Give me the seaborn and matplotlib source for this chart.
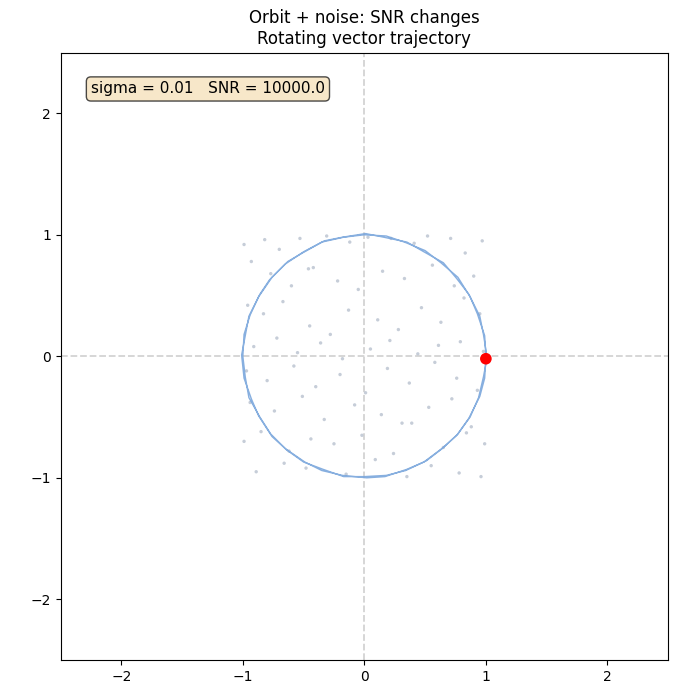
import numpy as np
import seaborn as sns
import matplotlib.pyplot as plt
import pandas as pd

# trajectory (two laps, slight noise)
traj_x = [1.00, 0.99, 0.93, 0.87, 0.77, 0.63, 0.50, 0.33, 0.18, 0.00, -0.17, -0.35, -0.50, -0.65,
          -0.76, -0.87, -0.94, -0.99, -1.00, -0.98, -0.95, -0.86, -0.77, -0.64, -0.50, -0.34,
          -0.17, 0.00, 0.18, 0.34, 0.51, 0.64, 0.76, 0.87, 0.94, 0.98, 1.01,
          0.98, 0.95, 0.86, 0.76, 0.65, 0.49, 0.35, 0.16, 0.01, -0.18, -0.33, -0.51, -0.63,
          -0.78, -0.86, -0.95, -0.98, -1.01, -0.99, -0.93, -0.87, -0.76, -0.65, -0.49, -0.35,
          -0.18, 0.02, 0.17, 0.35, 0.49, 0.65, 0.77, 0.86, 0.95, 0.99, 1.00]
traj_y = [0.00, 0.17, 0.35, 0.49, 0.65, 0.77, 0.87, 0.94, 0.99, 1.00, 0.98, 0.94, 0.86, 0.76,
          0.65, 0.49, 0.34, 0.18, 0.00, -0.17, -0.34, -0.50, -0.64, -0.77, -0.87, -0.93,
          -0.99, -0.99, -0.98, -0.94, -0.86, -0.76, -0.65, -0.50, -0.34, -0.17, -0.01,
          0.18, 0.33, 0.51, 0.64, 0.77, 0.86, 0.94, 0.98, 1.01, 0.98, 0.95, 0.85, 0.78,
          0.63, 0.51, 0.33, 0.17, 0.01, -0.18, -0.35, -0.49, -0.66, -0.76, -0.87, -0.94,
          -0.98, -1.00, -0.99, -0.93, -0.87, -0.75, -0.64, -0.51, -0.33, -0.18, -0.02]

# noise scatter points
pts_x = [-0.99, -0.82, -0.70, -0.53, -0.46, -0.31, -0.12, 0.03, 0.22, 0.41, 0.52, 0.71, 0.83, 0.97,
         -0.93, -0.77, -0.60, -0.42, -0.22, -0.05, 0.15, 0.33, 0.56, 0.74, 0.90,
         -0.96, -0.83, -0.67, -0.45, -0.28, -0.13, 0.11, 0.28, 0.47, 0.63, 0.82, 0.95,
         -0.91, -0.72, -0.55, -0.36, -0.18, 0.05, 0.21, 0.44, 0.61, 0.79, 0.98,
         -0.97, -0.80, -0.58, -0.40, -0.20, 0.01, 0.19, 0.37, 0.58, 0.76, 0.93,
         -0.94, -0.74, -0.51, -0.33, -0.08, 0.14, 0.31, 0.53, 0.72, 0.88,
         -0.99, -0.85, -0.62, -0.44, -0.25, -0.02, 0.24, 0.39, 0.65, 0.84, 0.99,
         -0.89, -0.66, -0.48, -0.15, 0.09, 0.35, 0.55, 0.78, 0.96]
pts_y = [0.92, 0.96, 0.88, 0.97, 0.72, 0.99, 0.94, 0.98, 0.97, 0.93, 0.99, 0.97, 0.85, 0.95,
         0.78, 0.68, 0.58, 0.73, 0.62, 0.55, 0.70, 0.64, 0.75, 0.58, 0.66,
         0.42, 0.35, 0.45, 0.25, 0.18, 0.38, 0.30, 0.22, 0.40, 0.28, 0.48, 0.35,
         0.08, 0.15, 0.03, 0.11, -0.02, 0.06, 0.13, 0.02, 0.09, 0.12, 0.04,
         -0.12, -0.20, -0.08, -0.25, -0.15, -0.30, -0.10, -0.22, -0.05, -0.18, -0.28,
         -0.38, -0.45, -0.33, -0.52, -0.40, -0.48, -0.55, -0.42, -0.35, -0.58,
         -0.70, -0.62, -0.78, -0.68, -0.72, -0.65, -0.80, -0.55, -0.75, -0.63, -0.72,
         -0.95, -0.88, -0.92, -0.97, -0.85, -0.99, -0.90, -0.96, -0.99]

cur_x, cur_y = [1.00], [-0.02]

sigma = 0.01
snr = 10000.0

plt.rcdefaults()
fig, ax = plt.subplots(figsize=(7, 7), dpi=100)
fig.subplots_adjust(left=0.086, right=0.955, top=0.925, bottom=0.057)

ax.axhline(0, color="lightgray", ls="--", lw=1.3, zorder=0)
ax.axvline(0, color="lightgray", ls="--", lw=1.3, zorder=0)

sns.scatterplot(x=pts_x, y=pts_y, ax=ax, s=6, color="#c0c8d4", edgecolor="none", alpha=0.9)
ax.plot(traj_x, traj_y, color="#7aa6dc", lw=1.0, alpha=0.9)
sns.scatterplot(x=cur_x, y=cur_y, ax=ax, s=70, color="red", edgecolor="none", zorder=5)

ax.text(-2.25, 2.2, f"sigma = {sigma}   SNR = {snr}", fontsize=11, va="center",
        bbox=dict(boxstyle="round,pad=0.3", facecolor="wheat", alpha=0.7, edgecolor="black"))

ax.set_xlim(-2.5, 2.5)
ax.set_ylim(-2.5, 2.5)
ax.set_xticks([-2, -1, 0, 1, 2])
ax.set_yticks([-2, -1, 0, 1, 2])
ax.set_aspect("equal")
ax.set_title("Orbit + noise: SNR changes\nRotating vector trajectory", fontsize=12)

fig.savefig("out.png", dpi=100)
